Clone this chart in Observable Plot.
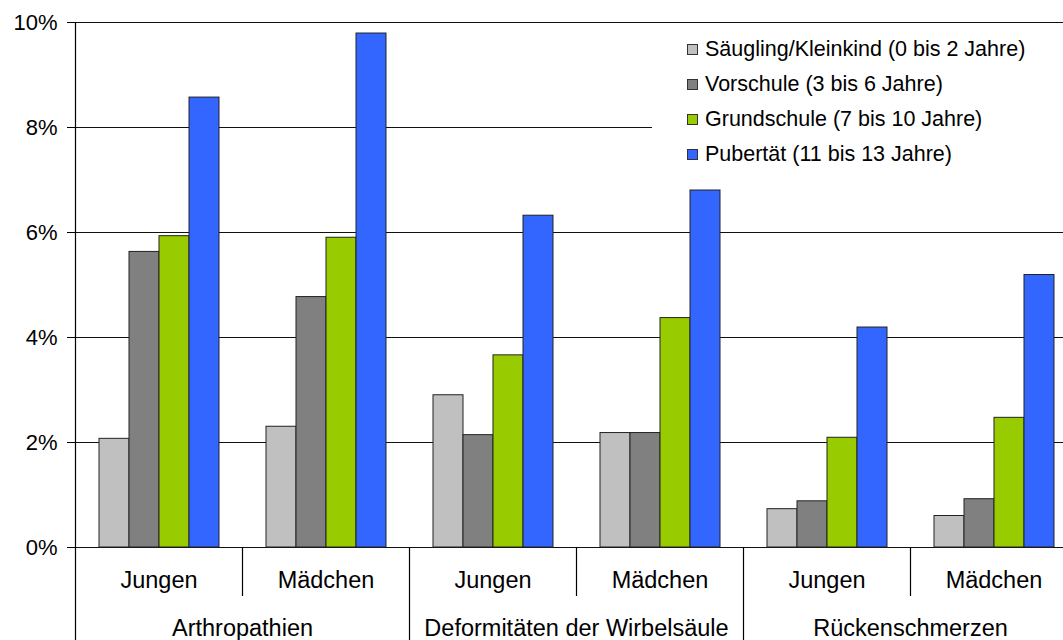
<!DOCTYPE html>
<html>
<head>
<meta charset="utf-8">
<script src="https://cdn.jsdelivr.net/npm/d3@7"></script>
<script src="https://cdn.jsdelivr.net/npm/@observablehq/plot@0.6"></script>
<style>
  html, body { margin: 0; padding: 0; background: #fff; overflow: hidden; }
  #wrap { position: relative; width: 1090px; height: 640px; font-family: "Liberation Sans", Arial, sans-serif; }
  #wrap svg { position: absolute; left: 0; top: 0; }
  #legend { position: absolute; left: 652px; top: 28px; width: 430px; height: 158px; background: #fff; }
  .row { position: absolute; left: 35px; height: 24px; display: flex; align-items: center; font-size: 21.5px; color: #000; white-space: nowrap; }
  .sw { width: 11px; height: 11px; border: 1px solid #333; margin-right: 7px; box-sizing: border-box; }
</style>
</head>
<body>
<div id="wrap"></div>
<script>
const categories = ["Arthropathien", "Deformitäten der Wirbelsäule", "Rückenschmerzen"];
const sexes = ["Jungen", "Mädchen"];
const ageGroups = ["Säugling/Kleinkind (0 bis 2 Jahre)", "Vorschule (3 bis 6 Jahre)", "Grundschule (7 bis 10 Jahre)", "Pubertät (11 bis 13 Jahre)"];
const ageColors = ["#C0C0C0", "#808080", "#99CC00", "#3366FF"];
// values per group, order: Arthro-J, Arthro-M, Deform-J, Deform-M, Ruecken-J, Ruecken-M
const saeugling   = [2.07, 2.30, 2.90, 2.18, 0.73, 0.60];
const vorschule   = [5.63, 4.77, 2.14, 2.18, 0.88, 0.92];
const grundschule = [5.93, 5.90, 3.66, 4.37, 2.09, 2.47];
const pubertaet   = [8.57, 9.79, 6.32, 6.80, 4.19, 5.19];
const yTicks = [0, 2, 4, 6, 8, 10];

const series = [saeugling, vorschule, grundschule, pubertaet];
const groupKeys = [];
categories.forEach(c => sexes.forEach(s => groupKeys.push(c + "|" + s)));
const rows = [];
groupKeys.forEach((g, gi) => ageGroups.forEach((a, ai) => rows.push({group: g, age: a, value: series[ai][gi]})));

const W = 1090, H = 640, ML = 75, MR = 13, MT = 22, MB = 93;
const font = {fontFamily: "'Liberation Sans', Arial, sans-serif", background: "transparent", overflow: "visible"};

const main = Plot.plot({
  width: W, height: H,
  marginLeft: ML, marginRight: MR, marginTop: MT, marginBottom: MB,
  style: {...font, fontSize: "22px", color: "#000"},
  fx: {domain: groupKeys, padding: 0, axis: null},
  x: {domain: ageGroups, paddingInner: 0, paddingOuter: 0.74, axis: null},
  y: {domain: [0, 10], ticks: yTicks, tickFormat: d => d + "%", tickSize: 8, tickPadding: 10, label: null},
  color: {domain: ageGroups, range: ageColors},
  marks: [
    Plot.ruleY(yTicks, {stroke: "#111", strokeWidth: 1}),
    Plot.barY(rows, {fx: "group", x: "age", y: "value", fill: "age", stroke: "#222", strokeWidth: 1})
  ]
});

// lower axis: group index scale (one unit per Jungen/Mädchen group)
const catBounds = categories.map((c, i) => i * sexes.length);
const sexBounds = [];
const sexLabels = [];
const catLabels = [];
categories.forEach((c, ci) => {
  catLabels.push({x: ci * sexes.length + sexes.length / 2, label: c});
  sexes.forEach((s, si) => {
    sexLabels.push({x: ci * sexes.length + si + 0.5, label: s});
    if (si > 0) sexBounds.push(ci * sexes.length + si);
  });
});

const overlay = Plot.plot({
  width: W, height: H,
  marginLeft: ML, marginRight: MR, marginTop: MT, marginBottom: 0,
  style: {...font, fontSize: "23.5px", color: "#000"},
  x: {domain: [0, groupKeys.length], axis: null},
  y: {axis: null},
  marks: [
    Plot.ruleX([0], {stroke: "#000", strokeWidth: 1.2}),
    Plot.ruleX(catBounds.slice(1), {stroke: "#000", strokeWidth: 1.2, insetTop: H - MT - MB}),
    Plot.ruleX(sexBounds, {stroke: "#000", strokeWidth: 1.2, insetTop: H - MT - MB, insetBottom: 44}),
    Plot.text(sexLabels, {x: "x", text: "label", frameAnchor: "bottom", lineAnchor: "middle", dy: -60, fill: "#000"}),
    Plot.text(catLabels, {x: "x", text: "label", frameAnchor: "bottom", lineAnchor: "middle", dy: -12, fill: "#000"})
  ]
});

const wrap = document.getElementById("wrap");
wrap.appendChild(main);
wrap.appendChild(overlay);

const legend = document.createElement("div");
legend.id = "legend";
ageGroups.forEach((a, i) => {
  const r = document.createElement("div");
  r.className = "row";
  r.style.top = (9 + i * 35.3) + "px";
  const sw = document.createElement("div");
  sw.className = "sw";
  sw.style.background = ageColors[i];
  const t = document.createElement("span");
  t.textContent = a;
  r.appendChild(sw); r.appendChild(t);
  legend.appendChild(r);
});
wrap.appendChild(legend);
</script>
</body>
</html>
